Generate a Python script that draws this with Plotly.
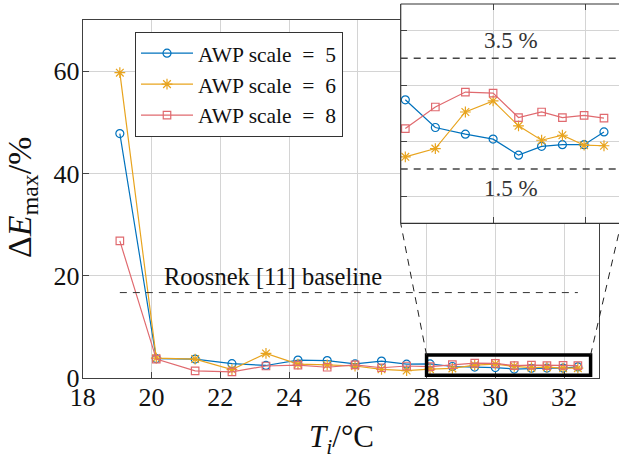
import plotly.graph_objects as go

# ---------------- data ----------------
T_i = [19.08, 20.14, 21.27, 22.34, 23.33, 24.26, 25.11, 25.92, 26.69, 27.42,
       28.10, 28.75, 29.40, 30.00, 30.55, 31.05, 31.50, 31.97, 32.40]
awp5 = [47.8, 3.8, 3.7, 2.8, 2.45, 3.5, 3.4, 2.75, 3.3, 2.7,
        2.75, 2.25, 2.13, 2.04, 1.75, 1.91, 1.94, 1.94, 2.17]
awp6 = [59.7, 3.9, 3.7, 1.65, 4.8, 2.7, 2.55, 2.35, 1.7, 1.45,
        1.72, 1.87, 2.53, 2.73, 2.28, 2.02, 2.11, 1.93, 1.92]
awp8 = [26.8, 3.7, 1.4, 1.2, 2.35, 2.5, 2.1, 2.55, 2.0, 2.35,
        2.23, 2.62, 2.89, 2.87, 2.43, 2.53, 2.43, 2.47, 2.42]
series_names = ["AWP scale\u2002=\u20025", "AWP scale\u2002=\u20026", "AWP scale\u2002=\u20028"]
baseline_value = 16.7
baseline_label = "Roosnek [11] baseline"
inset_levels = [3.5, 1.5]
inset_labels = ["3.5 %", "1.5 %"]
x_ticks = [18, 20, 22, 24, 26, 28, 30, 32]
y_ticks = [0, 20, 40, 60]

# ---------------- styling / layout ----------------
W, H = 619, 459
FONT = "Liberation Serif, serif"
colors = ["#0072BD", "#E8A41E", "#E06A6F"]
symbols = ["circle-open", "asterisk-open", "square-open"]
msizes = [8, 9, 7.5]

# main axes pixel box
M_L, M_R, M_T, M_B = 82.7, 598.5, 20.0, 378.0
M_XR, M_YR = [18, 33], [0, 70]
# inset pixel box (right side extends past the page)
I_L, I_T, I_B = 400.7, 4.0, 223.3
I_XR = [28, 28 + (W - I_L) / 46.2]
I_YR = [0.52, 4.48]
ZOOM_X = [28, 32.77]
ZOOM_Y = I_YR


def px_to_paper_x(px):
    return px / W


def px_to_paper_y(py):
    return 1 - py / H


def main_to_px(x, y):
    px = M_L + (x - M_XR[0]) / (M_XR[1] - M_XR[0]) * (M_R - M_L)
    py = M_B - (y - M_YR[0]) / (M_YR[1] - M_YR[0]) * (M_B - M_T)
    return px, py


fig = go.Figure()
data = [awp5, awp6, awp8]
for i, ys in enumerate(data):
    fig.add_trace(go.Scatter(
        x=T_i, y=ys, name=series_names[i], xaxis="x", yaxis="y",
        mode="lines+markers",
        line=dict(color=colors[i], width=1.2),
        marker=dict(symbol=symbols[i], size=msizes[i], color=colors[i],
                    line=dict(color=colors[i], width=1.2))))
for i, ys in enumerate(data):
    inset_x = [t for t in T_i if t >= ZOOM_X[0]]
    inset_y = [v for t, v in zip(T_i, ys) if t >= ZOOM_X[0]]
    fig.add_trace(go.Scatter(
        x=inset_x, y=inset_y, showlegend=False, xaxis="x2", yaxis="y2",
        mode="lines+markers",
        line=dict(color=colors[i], width=1.2),
        marker=dict(symbol=symbols[i], size=msizes[i], color=colors[i],
                    line=dict(color=colors[i], width=1.2))))

# baseline dashed line
fig.add_trace(go.Scatter(x=[T_i[0], T_i[-1]], y=[baseline_value, baseline_value],
                         mode="lines", showlegend=False, xaxis="x", yaxis="y",
                         line=dict(color="#333333", width=1, dash="7px,6px")))

axis_common = dict(showgrid=True, gridcolor="#d4d4d4", gridwidth=1,
                   zeroline=False, ticks="inside", ticklen=6, tickcolor="#444444",
                   automargin=False)

fig.update_layout(
    width=W, height=H,
    margin=dict(l=0, r=0, t=0, b=0),
    paper_bgcolor="white", plot_bgcolor="white",
    font=dict(family=FONT, color="#111111"),
    xaxis=dict(domain=[px_to_paper_x(M_L), px_to_paper_x(M_R)], range=M_XR,
               tickvals=x_ticks, tickfont=dict(size=26, family=FONT, color="#111111"),
               ticklabelstandoff=-4,
               showline=True, linecolor="#404040", linewidth=1, mirror=True,
               **axis_common),
    yaxis=dict(domain=[px_to_paper_y(M_B), px_to_paper_y(M_T)], range=M_YR,
               tickvals=y_ticks, tickfont=dict(size=26, family=FONT, color="#111111"),
               ticklabelstandoff=-3,
               showline=True, linecolor="#404040", linewidth=1, mirror=True,
               **axis_common),
    xaxis2=dict(domain=[px_to_paper_x(I_L), 1], range=I_XR, anchor="y2",
                tickvals=[28, 30, 32], showticklabels=False, showline=False,
                mirror="ticks", **axis_common),
    yaxis2=dict(domain=[px_to_paper_y(I_B), px_to_paper_y(I_T)], range=I_YR, anchor="x2",
                tickvals=[1, 2, 3, 4], showticklabels=False, showline=False,
                **axis_common),
    legend=dict(x=px_to_paper_x(135), y=px_to_paper_y(31.7), xanchor="left", yanchor="top",
                bgcolor="white", bordercolor="#333333", borderwidth=1,
                font=dict(family=FONT, size=21.5, color="#111111"),
                itemwidth=52, tracegroupgap=0),
    showlegend=True,
)

shapes = []
# inset frame (top, left, bottom)
ix0, iy0, iy1 = px_to_paper_x(I_L), px_to_paper_y(I_B), px_to_paper_y(I_T)
for (a, b, c, d) in [(ix0, iy1, 1.01, iy1), (ix0, iy0, ix0, iy1), (ix0, iy0, 1.01, iy0)]:
    shapes.append(dict(type="line", xref="paper", yref="paper", x0=a, y0=b, x1=c, y1=d,
                       line=dict(color="#333333", width=1.2), layer="above"))
# inset dashed levels
for lv in inset_levels:
    shapes.append(dict(type="line", xref="x2 domain", yref="y2", x0=0, x1=1, y0=lv, y1=lv,
                       line=dict(color="#444444", width=1.5, dash="7px,6px"), layer="above"))
# zoom rectangle in main axes
shapes.append(dict(type="rect", xref="x", yref="y", x0=ZOOM_X[0], x1=ZOOM_X[1],
                   y0=ZOOM_Y[0], y1=ZOOM_Y[1], line=dict(color="black", width=3.5),
                   layer="above"))
# connector lines
r_left = main_to_px(ZOOM_X[0], ZOOM_Y[1])
r_right = main_to_px(ZOOM_X[1], ZOOM_Y[1])
inset_right_px = I_L + (ZOOM_X[1] - I_XR[0]) / (I_XR[1] - I_XR[0]) * (W - I_L)
for (p, q) in [(r_left, (I_L, I_B)), (r_right, (inset_right_px, I_B))]:
    shapes.append(dict(type="line", xref="paper", yref="paper",
                       x0=px_to_paper_x(p[0]), y0=px_to_paper_y(p[1]),
                       x1=px_to_paper_x(q[0]), y1=px_to_paper_y(q[1]),
                       line=dict(color="#222222", width=1, dash="7px,6px"), layer="above"))
fig.update_layout(shapes=shapes)

annotations = [
    dict(text=baseline_label, x=20.3, y=19.8, xref="x", yref="y",
         xanchor="left", yanchor="middle", showarrow=False,
         font=dict(family=FONT, size=24.5, color="#111111")),
    dict(text=inset_labels[0], x=30.39, y=3.82, xref="x2", yref="y2",
         xanchor="center", yanchor="middle", showarrow=False,
         font=dict(family=FONT, size=23, color="#333333")),
    dict(text=inset_labels[1], x=30.39, y=1.15, xref="x2", yref="y2",
         xanchor="center", yanchor="middle", showarrow=False,
         font=dict(family=FONT, size=23, color="#333333")),
    dict(text="<i>T</i><sub><i>i</i></sub>/°C", x=px_to_paper_x(341), y=px_to_paper_y(439),
         xref="paper", yref="paper", xanchor="center", yanchor="middle", showarrow=False,
         font=dict(family=FONT, size=31, color="#111111")),
    dict(text="Δ<i>E</i><sub>max</sub>/%", x=px_to_paper_x(22), y=px_to_paper_y(198),
         xref="paper", yref="paper", xanchor="center", yanchor="middle", showarrow=False,
         textangle=-90, font=dict(family=FONT, size=34, color="#111111")),
]
fig.update_layout(annotations=annotations)

fig.write_html("out.html", config={"displayModeBar": False},
               post_script="document.body.style.margin='0';document.body.style.overflow='hidden';")
